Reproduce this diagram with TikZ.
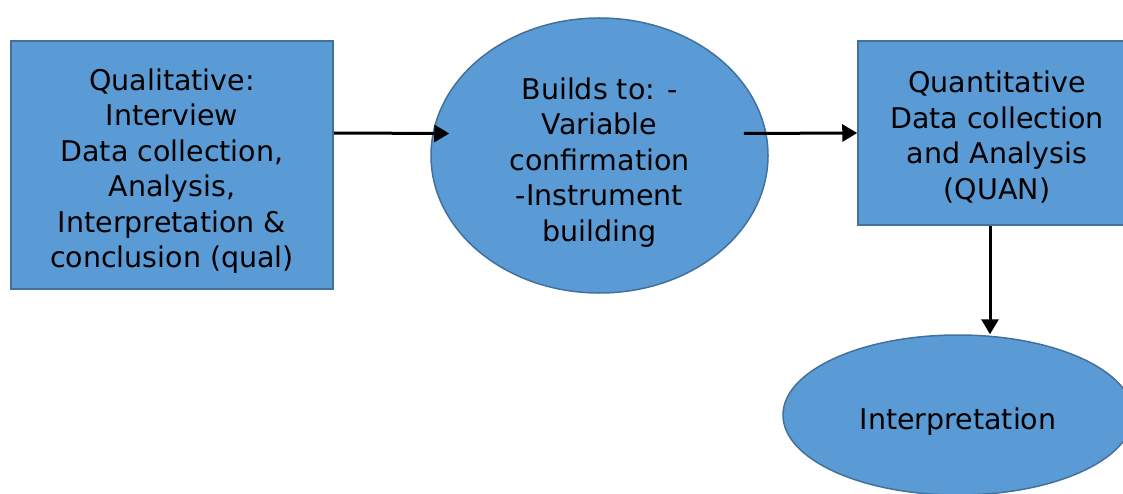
\documentclass[tikz,border=0pt]{standalone}
\usepackage{fontspec}
\setmainfont{DejaVu Sans}
\usetikzlibrary{shapes.geometric,arrows.meta}
\definecolor{boxfill}{HTML}{5B9BD5}
\definecolor{boxline}{HTML}{41719C}
\begin{document}
\begin{tikzpicture}[x=1pt,y=-1pt,
  shapebase/.style={fill=boxfill,draw=boxline,line width=1.5pt,inner sep=0pt},
  rectbox/.style={shapebase,rectangle},
  ovalbox/.style={shapebase,ellipse},
  caption/.style={inner sep=0pt,align=center,font=\fontsize{28.5}{35.5}\selectfont},
  flow/.style={line width=3pt,-{Triangle[length=15pt,width=17pt]}}]
\clip (0,0) rectangle (1123,494);
\fill[white] (0,0) rectangle (1123,494);

% shapes
\node[rectbox,minimum width=322pt,minimum height=248pt] (qual) at (172,165) {};
\node[ovalbox,minimum width=337pt,minimum height=275pt] (build) at (599.5,155.5) {};
\node[rectbox,minimum width=278pt,minimum height=184pt] (quan) at (997,133) {};
\node[ovalbox,minimum width=350pt,minimum height=160pt] (interp) at (958,415) {};

% texts
\node[caption] (qualtext) at ([yshift=-6pt]qual.center)
  {Qualitative:\\Interview\\Data collection,\\Analysis,\\Interpretation \&\\conclusion (qual)};
\node[caption] (buildtext) at ([yshift=-7pt]build.center)
  {Builds to: -\\Variable\\confirmation\\-Instrument\\building};
\node[caption] (quantext) at ([yshift=-4pt]quan.center)
  {Quantitative\\Data collection\\and Analysis\\(QUAN)};
\node[caption] (interptext) at ([yshift=-7pt]interp.center) {Interpretation};

% connectors
\draw[flow] ([yshift=32pt]qual.east) -- ([xshift=19pt,yshift=22pt]build.west);
\draw[flow] ([xshift=-25pt,yshift=22pt]build.east) -- (quan.west);
\draw[flow] ([xshift=-7pt]quan.south) -- ([xshift=-7pt]quan.south |- interp.north);
\end{tikzpicture}
\end{document}
